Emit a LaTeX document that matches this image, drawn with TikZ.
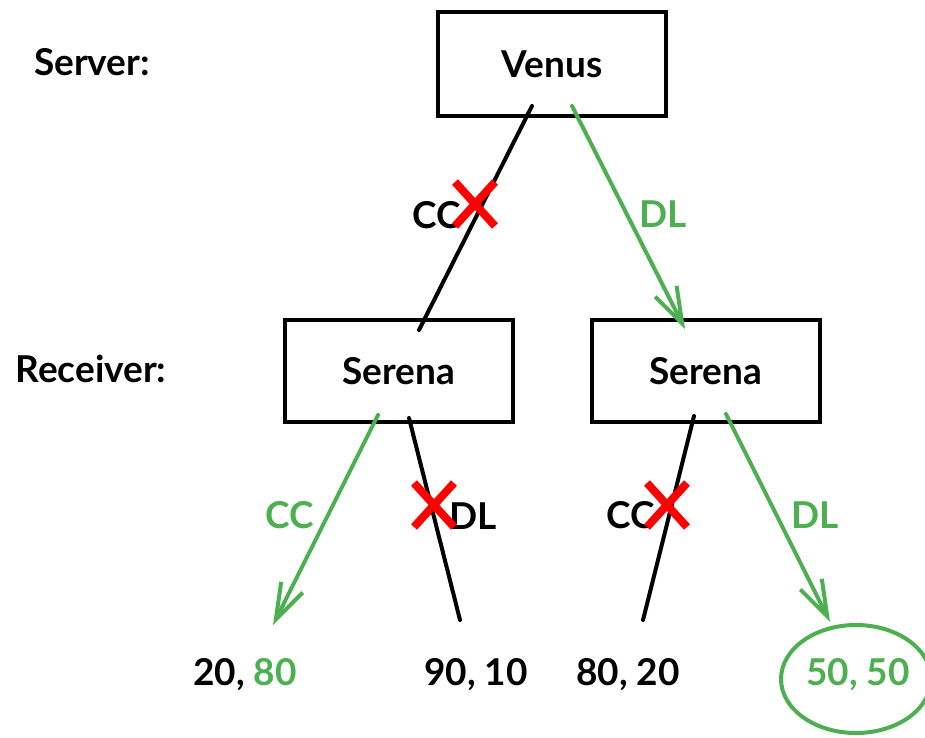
\documentclass[tikz,border=0pt]{standalone}
\usepackage{fontspec}
\setmainfont{Lato}
\usetikzlibrary{calc,shapes.misc,shapes.geometric,arrows.meta}
\definecolor{win}{RGB}{76,175,80}
\begin{document}
\begin{tikzpicture}[x=1pt, y=-1pt, line width=4pt, line cap=round,
    player/.style={rectangle, draw, minimum width=228pt, minimum height=104pt,
      font=\fontsize{37}{40}\selectfont\bfseries},
    lbl/.style={font=\fontsize{37}{40}\selectfont\bfseries},
    nope/.style={cross out, draw=red, line width=8pt, line cap=butt,
      minimum width=32pt, minimum height=36pt, inner sep=0pt},
    >={Straight Barb[length=36pt, width=24pt, line width=4pt]}]

  \useasboundingbox (0,0) rectangle (925,737);

  \node[lbl] (srv) at (92,62) {Server:};
  \node[lbl] (rcv) at (91,369) {Receiver:};

  \node[player] (V) at (552,64) {Venus};
  \node[player, minimum height=102pt] (SL) at (399,371) {Serena};
  \node[player, minimum height=102pt] (SR) at (706,371) {Serena};

  \node[lbl] (p1) at (245,675) {20, \textcolor{win}{80}};
  \node[lbl] (p2) at (476,675) {90, 10};
  \node[lbl] (p3) at (628,675) {80, 20};
  \node[lbl, text=win] (p4) at (858,675) {50, 50};
  \node[ellipse, draw=win, minimum width=150pt, minimum height=108pt] (win) at (856,679) {};

  \coordinate (e1) at (273,625);
  \coordinate (e2) at (460,620);
  \coordinate (e3) at (643,620);
  \coordinate (e4) at (830,622);

  \draw ($(V.south)+(-20,-12)$) -- ($(SL.north)+(20,12)$);
  \draw[->, win] ($(V.south)+(20,-12)$) -- ($(SR.north)+(-21,11)$);
  \draw[->, win] ($(SL.south)+(-21,-9)$) -- (e1);
  \draw ($(SL.south)+(10,-6)$) -- (e2);
  \draw ($(SR.south)+(-12,-8)$) -- (e3);
  \draw[->, win] ($(SR.south)+(20,-10)$) -- (e4);

  \node[lbl, anchor=east] (c1) at (466,215) {CC};
  \node[lbl, text=win] (d1) at (663,214) {DL};
  \node[lbl, text=win] (c2) at (290,515) {CC};
  \node[lbl, anchor=west] (d2) at (444,516) {DL};
  \node[lbl, anchor=east] (c3) at (660,515) {CC};
  \node[lbl, text=win] (d3) at (815,515) {DL};

  \node[nope] (x1) at (475,204) {};
  \node[nope] (x2) at (434,505) {};
  \node[nope] (x3) at (667,505) {};

\end{tikzpicture}
\end{document}
